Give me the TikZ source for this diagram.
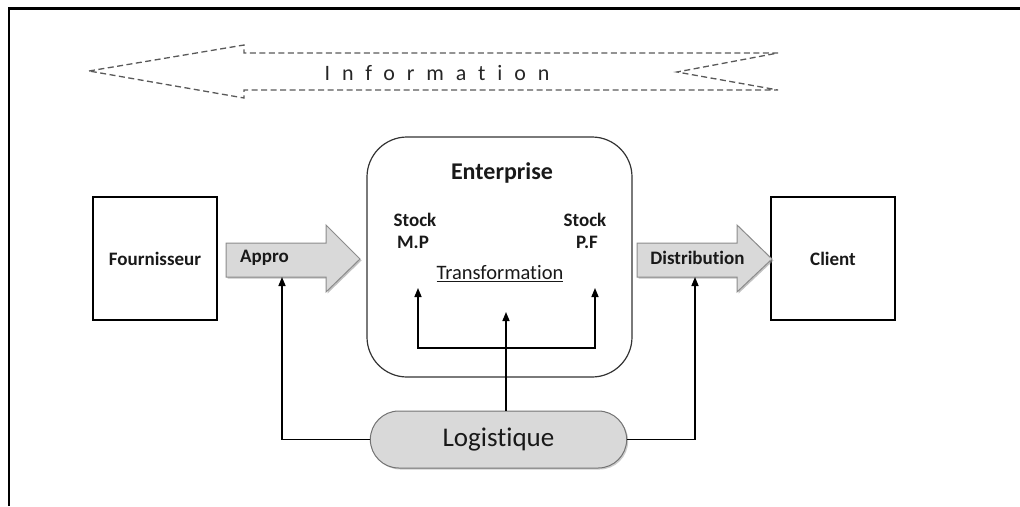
\documentclass[tikz,border=0pt]{standalone}
\usepackage{fontspec}
\setmainfont{Carlito}[Ligatures=NoCommon]
\usetikzlibrary{arrows.meta,shapes.misc,shadows}
\begin{document}
\begin{tikzpicture}[x=1pt,y=-1pt,
  box/.style={draw=black,line width=1.4pt,minimum width=124pt,minimum height=123pt,font=\bfseries\fontsize{19}{22}\selectfont,inner sep=0pt,text=black!90},
  lbl/.style={font=\bfseries\fontsize{19}{22}\selectfont,inner sep=0pt,text=black!90},
  blockarrow/.style={fill=black!15,draw=black!45,line width=1pt,drop shadow={shadow xshift=1.5pt,shadow yshift=-1.5pt,fill=black!40,opacity=0.6}},
  conn/.style={line width=1.5pt,-{Triangle[length=9pt,width=7pt]}},
  link/.style={line width=1.5pt}
]
\useasboundingbox (0,0) rectangle (1020,506);
% frame
\draw[line width=2.5pt] (9,506) -- (9,8.5) -- (1020,8.5);
% information arrow
\draw[black!65,line width=1.3pt,dash pattern=on 6pt off 3.5pt,line join=miter]
  (89,71) -- (244,45) -- (244,53) -- (778,53) -- (677,72) -- (778,90) -- (244,90) -- (244,98) -- cycle;
\node[font=\fontsize{22}{26}\selectfont\addfontfeature{LetterSpace=54},text=black!85,inner sep=0pt] (info) at (437,73) {Information};
% boxes
\node[box] (four) at (155,258.5) {Fournisseur};
\node[box] (client) at (833,258.5) {Client};
% enterprise
\node[draw=black!80,line width=1.2pt,rounded corners=40pt,minimum width=265pt,minimum height=240pt] (ent) at (499.5,257) {};
\node[font=\bfseries\fontsize{24}{28}\selectfont,text=black!90,inner sep=0pt] (enttitle) at (502,173) {Enterprise};
\node[lbl] (stockmp) at (415,220) {Stock};
\node[lbl] (mp) at (413,242) {M.P};
\node[lbl] (stockpf) at (585,220) {Stock};
\node[lbl] (pf) at (587,242) {P.F};
\node[font=\fontsize{20.5}{24}\selectfont,inner sep=0pt,text=black!90] (transf) at (500,274) {\underline{Transformation}};
% block arrows
\filldraw[blockarrow] (226,243) -- (326,243) -- (326,225) -- (360,259) -- (326,292) -- (326,277) -- (226,277) -- cycle;
\node[lbl,anchor=west] (appro) at (240,258) {Appro};
\coordinate (approbot) at (282,277);
\filldraw[blockarrow] (637,243) -- (737,243) -- (737,225) -- (772,259) -- (737,292) -- (737,277) -- (637,277) -- cycle;
\node[lbl] (distr) at (697.5,258) {Distribution};
\coordinate (distrbot) at (695,277);
% logistique
\node[rounded rectangle,draw=black!55,fill=black!15,line width=1pt,minimum width=263pt,minimum height=57pt,font=\fontsize{27}{32}\selectfont,text=black!90,
  drop shadow={shadow xshift=1.5pt,shadow yshift=-1.5pt,fill=black!40,opacity=0.5}] (logi) at (498.5,439.5) {Logistique};
% connectors
\draw[conn] (logi.west) -| (approbot);
\draw[conn] (logi.east) -| (distrbot);
\coordinate (tin) at (506,312);
\draw[conn] (logi.north -| tin) -- (tin);
\coordinate (tl) at (418,288);
\coordinate (tr) at (595,288);
\coordinate (jl) at (418,348);
\coordinate (jr) at (595,348);
\draw[line width=1.5pt,{Triangle[length=9pt,width=7pt]}-{Triangle[length=9pt,width=7pt]}] (tl) -- (jl) -- (jr) -- (tr);
\end{tikzpicture}
\end{document}
